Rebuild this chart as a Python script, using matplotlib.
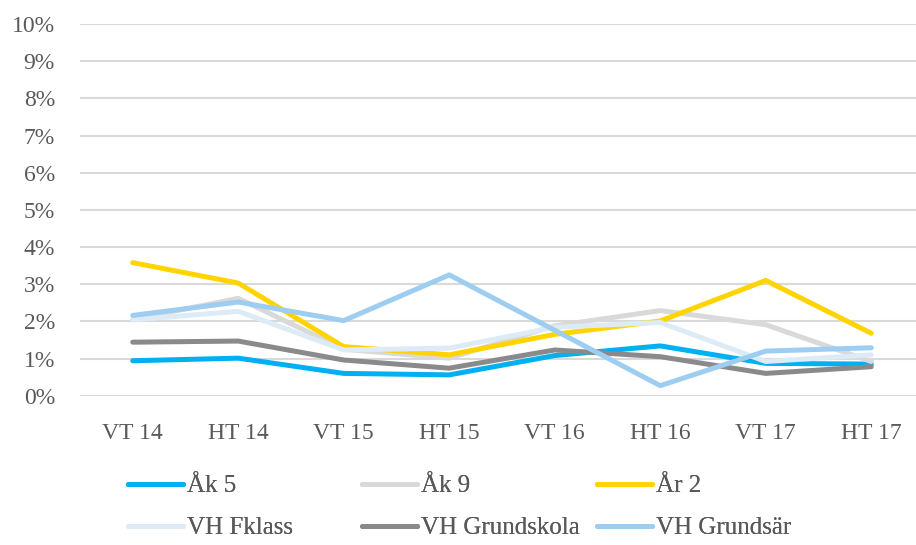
import numpy as np
import matplotlib.pyplot as plt

terms = ['VT 14', 'HT 14', 'VT 15', 'HT 15', 'VT 16', 'HT 16', 'VT 17', 'HT 17']
ak5 = [0.94, 1.01, 0.60, 0.56, 1.08, 1.34, 0.87, 0.85]
ak9 = [2.05, 2.62, 1.25, 1.01, 1.88, 2.29, 1.91, 0.92]
ar2 = [3.58, 3.03, 1.32, 1.10, 1.65, 2.01, 3.10, 1.68]
fklass = [2.04, 2.27, 1.23, 1.28, 1.84, 1.97, 0.92, 1.10]
grundskola = [1.44, 1.47, 0.96, 0.74, 1.23, 1.05, 0.60, 0.78]
grundsar = [2.16, 2.52, 2.02, 3.25, 1.76, 0.27, 1.20, 1.29]

names = ['Åk 5', 'Åk 9', 'År 2', 'VH Fklass', 'VH Grundskola', 'VH Grundsär']
series = [ak5, ak9, ar2, fklass, grundskola, grundsar]
colors = ['#00b0f0', '#d9d9d9', '#ffd400', '#ddebf7', '#8a8a8c', '#9dcdf0']

plt.rcParams['font.family'] = ['Liberation Serif', 'DejaVu Serif']
txt = '#595959'

fig = plt.figure(figsize=(9.16, 5.45), dpi=100)
ax = fig.add_axes([80/916, 1-395.7/545, 844/916, (395.7-24)/545])

x = np.arange(len(terms))
lines = []
for vals, name, c in zip(series, names, colors):
    l, = ax.plot(x, np.array(vals)/100, color=c, lw=3.6, label=name,
                 solid_capstyle='round', solid_joinstyle='round')
    lines.append(l)

ax.set_xlim(-0.5, 7.5)
ax.set_ylim(0, 0.10)
ax.set_yticks(np.arange(0, 0.101, 0.01))
ax.set_yticklabels([f'{i}%' for i in range(11)])
ax.set_xticks(x)
ax.set_xticklabels(terms)
ax.grid(axis='y', color='#d9d9d9', lw=1.5)
ax.set_axisbelow(True)
for s in ax.spines.values():
    s.set_visible(False)
ax.tick_params(length=0, colors=txt, labelsize=17)
ax.tick_params(axis='y', pad=18)
ax.tick_params(axis='x', pad=20)

# legend: 3 columns at fixed x positions, filled row-wise
col_x = [128, 362, 597]
for k in range(3):
    idx = [k, k + 3]
    leg = fig.legend([lines[i] for i in idx], [names[i] for i in idx],
                     loc='upper left', bbox_to_anchor=(col_x[k]/916, 1-475/545),
                     frameon=False, fontsize=18, handlelength=2.2, handletextpad=0.16,
                     labelspacing=0.78, borderaxespad=0, borderpad=0)
    for t in leg.get_texts():
        t.set_color(txt)
    fig.add_artist(leg)

fig.savefig('out.png', dpi=100)
